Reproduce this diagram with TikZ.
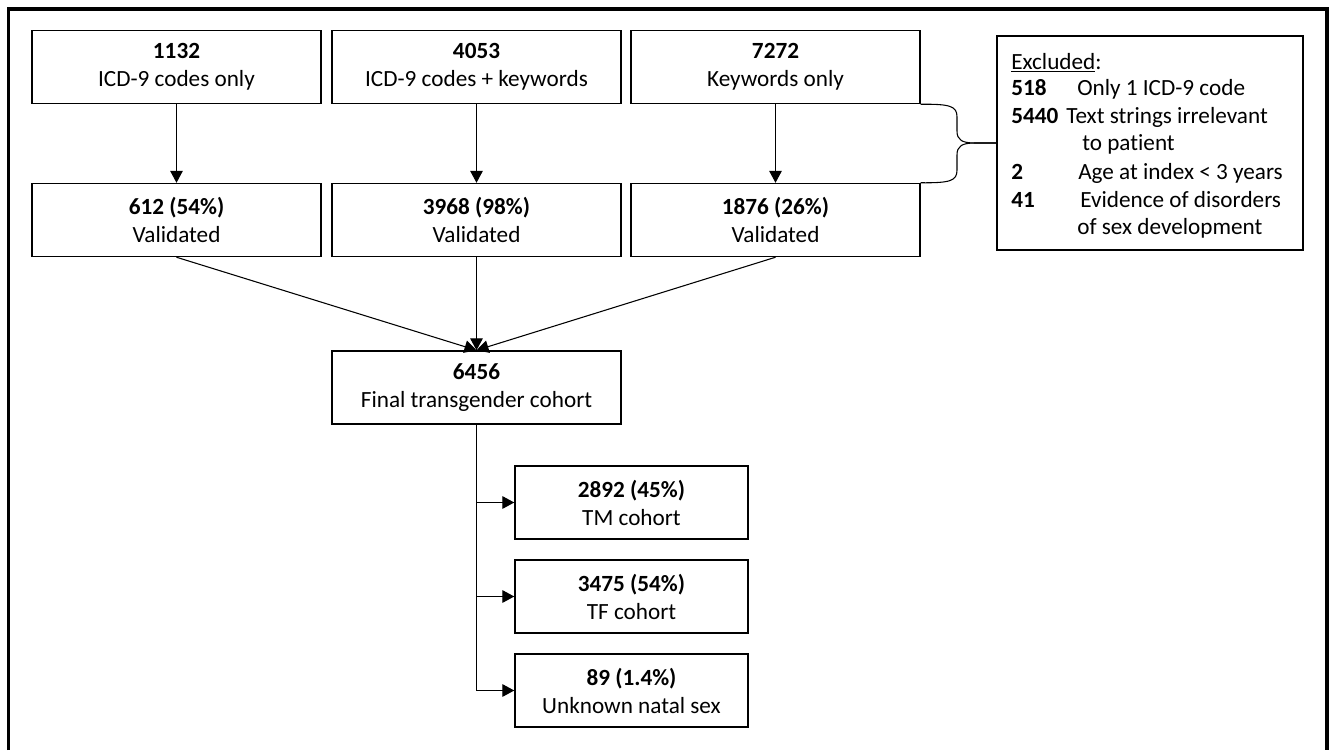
\documentclass[tikz,border=0pt]{standalone}
\usepackage{fontspec}
\setmainfont{Carlito}[Ligatures=NoCommon]
\usetikzlibrary{arrows.meta}
\tikzset{
  x=0.75pt, y=-0.75pt,
  fs/.style={font=\fontsize{17.4}{21}\selectfont},
  box/.style={draw, line width=1.1pt, minimum width=216.75pt, minimum height=54.75pt,
    align=center, inner sep=0pt, fs},
  smallbox/.style={box, minimum width=174.75pt},
  arr/.style={line width=0.8pt, -{Triangle[length=9pt,width=9.5pt]}},
  conn/.style={line width=0.8pt},
  exl/.style={anchor=base west, inner sep=0pt, fs},
}
\begin{document}
\begin{tikzpicture}
\useasboundingbox (0,0) rectangle (1331,750);
\fill[white] (0,0) rectangle (1331,750);
% outer frame (bottom cut off)
\draw[line width=2.4pt] (8.5,750) -- (8.5,9) -- (1327,9) -- (1327,750);

% top row
\node[box] (b1) at (176.5,67) {\textbf{1132}\\ICD-9 codes only};
\node[box] (b2) at (476.5,67) {\textbf{4053}\\ICD-9 codes + keywords};
\node[box] (b3) at (775.5,67) {\textbf{7272}\\Keywords only};
% second row
\node[box] (b4) at (176.5,220) {\textbf{612 (54\%)}\\Validated};
\node[box] (b5) at (476.5,220) {\textbf{3968 (98\%)}\\Validated};
\node[box] (b6) at (775.5,220) {\textbf{1876 (26\%)}\\Validated};
% final
\node[box] (fin) at (476.5,387.5) {\textbf{6456}\\Final transgender cohort};
% sub cohorts
\node[smallbox] (tm) at (631.5,502.5) {\textbf{2892 (45\%)}\\TM cohort};
\node[smallbox] (tf) at (631.5,596.5) {\textbf{3475 (54\%)}\\TF cohort};
\node[smallbox] (un) at (631.5,690.5) {\textbf{89 (1.4\%)}\\Unknown natal sex};

% excluded box
\node[draw, line width=1.1pt, minimum width=229.5pt, minimum height=160.5pt, inner sep=0pt] (ex) at (1150,143) {};
\node[exl] (e0) at (1011,69) {\underline{Excluded}:};
\node[exl] (e1n) at (1011,95) {\textbf{518}};
\node[exl] (e1t) at (1077,95) {Only 1 ICD-9 code};
\node[exl] (e2n) at (1011,123) {\textbf{5440}};
\node[exl] (e2t) at (1066,123) {Text strings irrelevant};
\node[exl] (e2u) at (1082,150) {to patient};
\node[exl] (e3n) at (1011,179) {\textbf{2}};
\node[exl] (e3t) at (1078,179) {Age at index < 3 years};
\node[exl] (e4n) at (1011,207) {\textbf{41}};
\node[exl] (e4t) at (1080,207) {Evidence of disorders};
\node[exl] (e4u) at (1077,234) {of sex development};

% arrows
\draw[arr] (b1) -- (b4);
\draw[arr] (b2) -- (b5);
\draw[arr] (b3) -- (b6);
\draw[arr] (b4.south) -- (fin.north);
\draw[arr] (b5.south) -- (fin.north);
\draw[arr] (b6.south) -- (fin.north);

% branches
\draw[conn] (fin.south) -- (fin.south |- un.west);
\draw[arr] (fin.south |- tm.west) -- (tm.west);
\draw[arr] (fin.south |- tf.west) -- (tf.west);
\draw[arr] (fin.south |- un.west) -- (un.west);

% brace
\draw[conn] (b3.south east) .. controls (950,104) and (957,106) .. (957,117)
  -- (957,131) .. controls (957,140) and (962,143) .. (975,143) -- (ex.west);
\draw[conn] (ex.west) -- (975,143) .. controls (962,143) and (957,146) .. (957,155)
  -- (957,170) .. controls (957,181) and (950,183) .. (b6.north east);
\end{tikzpicture}
\end{document}
